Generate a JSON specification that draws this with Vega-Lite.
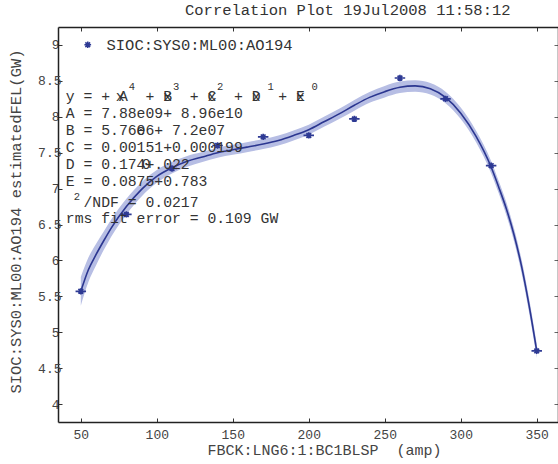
{
  "$schema": "https://vega.github.io/schema/vega-lite/v6.json",
  "width": 500,
  "height": 395,
  "autosize": {"type": "none"},
  "padding": {"left": 58, "top": 27, "right": 0, "bottom": 42},
  "background": "white",
  "config": {"view": {"stroke": null}, "font": "Liberation Mono", "axis": {"grid": false, "labelFont": "Liberation Mono", "titleFont": "Liberation Mono"}},
  "title": {"text": "Correlation Plot 19Jul2008 11:58:12", "anchor": "start", "frame": "group", "dx": 127, "offset": -4, "baseline": "alphabetic", "font": "Liberation Mono", "fontSize": 15.5, "fontWeight": "normal", "color": "#333"},
  "datasets": {
    "fit": [
      {"x": 50, "y": 5.57, "lo": 5.37, "hi": 5.77},
      {"x": 55, "y": 5.87, "lo": 5.70, "hi": 6.04},
      {"x": 60, "y": 6.08, "lo": 5.93, "hi": 6.23},
      {"x": 65, "y": 6.27, "lo": 6.14, "hi": 6.40},
      {"x": 70, "y": 6.45, "lo": 6.33, "hi": 6.57},
      {"x": 80, "y": 6.75, "lo": 6.64, "hi": 6.86},
      {"x": 90, "y": 6.99, "lo": 6.89, "hi": 7.09},
      {"x": 100, "y": 7.17, "lo": 7.08, "hi": 7.26},
      {"x": 110, "y": 7.29, "lo": 7.21, "hi": 7.37},
      {"x": 120, "y": 7.38, "lo": 7.305, "hi": 7.455},
      {"x": 130, "y": 7.44, "lo": 7.37, "hi": 7.51},
      {"x": 140, "y": 7.50, "lo": 7.43, "hi": 7.57},
      {"x": 150, "y": 7.54, "lo": 7.47, "hi": 7.61},
      {"x": 160, "y": 7.58, "lo": 7.51, "hi": 7.65},
      {"x": 170, "y": 7.62, "lo": 7.55, "hi": 7.69},
      {"x": 180, "y": 7.67, "lo": 7.60, "hi": 7.74},
      {"x": 190, "y": 7.74, "lo": 7.67, "hi": 7.81},
      {"x": 200, "y": 7.82, "lo": 7.75, "hi": 7.89},
      {"x": 210, "y": 7.93, "lo": 7.86, "hi": 8.00},
      {"x": 220, "y": 8.04, "lo": 7.97, "hi": 8.11},
      {"x": 230, "y": 8.16, "lo": 8.085, "hi": 8.235},
      {"x": 240, "y": 8.27, "lo": 8.195, "hi": 8.345},
      {"x": 250, "y": 8.35, "lo": 8.27, "hi": 8.43},
      {"x": 260, "y": 8.41, "lo": 8.33, "hi": 8.49},
      {"x": 270, "y": 8.43, "lo": 8.35, "hi": 8.51},
      {"x": 280, "y": 8.39, "lo": 8.31, "hi": 8.47},
      {"x": 290, "y": 8.27, "lo": 8.19, "hi": 8.35},
      {"x": 300, "y": 8.05, "lo": 7.97, "hi": 8.13},
      {"x": 310, "y": 7.73, "lo": 7.65, "hi": 7.81},
      {"x": 320, "y": 7.30, "lo": 7.215, "hi": 7.385},
      {"x": 325, "y": 7.02, "lo": 6.935, "hi": 7.105},
      {"x": 330, "y": 6.72, "lo": 6.63, "hi": 6.81},
      {"x": 335, "y": 6.36, "lo": 6.27, "hi": 6.45},
      {"x": 340, "y": 5.92, "lo": 5.825, "hi": 6.015},
      {"x": 345, "y": 5.37, "lo": 5.27, "hi": 5.47},
      {"x": 350, "y": 4.74, "lo": 4.64, "hi": 4.84}
    ],
    "pts": [
      {"x": 50, "y": 5.57, "series": "SIOC:SYS0:ML00:AO194"},
      {"x": 80, "y": 6.64, "series": "SIOC:SYS0:ML00:AO194"},
      {"x": 110, "y": 7.28, "series": "SIOC:SYS0:ML00:AO194"},
      {"x": 140, "y": 7.60, "series": "SIOC:SYS0:ML00:AO194"},
      {"x": 170, "y": 7.72, "series": "SIOC:SYS0:ML00:AO194"},
      {"x": 200, "y": 7.74, "series": "SIOC:SYS0:ML00:AO194"},
      {"x": 230, "y": 7.97, "series": "SIOC:SYS0:ML00:AO194"},
      {"x": 260, "y": 8.54, "series": "SIOC:SYS0:ML00:AO194"},
      {"x": 290, "y": 8.25, "series": "SIOC:SYS0:ML00:AO194"},
      {"x": 320, "y": 7.32, "series": "SIOC:SYS0:ML00:AO194"},
      {"x": 350, "y": 4.74, "series": "SIOC:SYS0:ML00:AO194"}
    ],
    "one": [{}]
  },
  "resolve": {"axis": {"x": "independent", "y": "independent"}},
  "layer": [
    {
      "data": {"name": "fit"},
      "mark": {"type": "area", "color": "#b7bee4", "interpolate": "monotone"},
      "encoding": {
        "x": {"field": "x", "type": "quantitative", "scale": {"domain": [35, 364], "nice": false, "zero": false},
          "axis": {"orient": "bottom", "values": [50, 100, 150, 200, 250, 300, 350], "format": "d", "title": "FBCK:LNG6:1:BC1BLSP\u00a0\u00a0(amp)",
            "tickSize": -4, "tickColor": "#333", "labelPadding": 10, "labelFontSize": 13, "labelColor": "#444",
            "titleFontSize": 15, "titleColor": "#444", "titleFontWeight": "normal", "titleX": 266, "titleY": 32, "titleBaseline": "alphabetic",
            "domainColor": "#222", "domainWidth": 1.5, "labelOverlap": false, "labelFlush": false, "labelBound": false}},
        "y": {"field": "lo", "type": "quantitative", "scale": {"domain": [3.75, 9.25], "nice": false, "zero": false},
          "axis": {"orient": "left", "values": [4, 4.5, 5, 5.5, 6, 6.5, 7, 7.5, 8, 8.5, 9], "labelExpr": "datum.value % 1 === 0 ? format(datum.value, 'd') : ''",
            "tickSize": -4, "tickColor": "#333", "labelPadding": 3, "labelFontSize": 13, "labelColor": "#444",
            "title": "SIOC:SYS0:ML00:AO194 estimatedFEL(GW)", "titleFontSize": 15.5, "titleColor": "#444", "titleFontWeight": "normal",
            "titleX": -43, "titleY": 194, "titleAngle": 270, "titleBaseline": "middle", "titleAlign": "center",
            "domainColor": "#222", "domainWidth": 1.5, "labelOverlap": false, "labelFlush": false, "labelBound": false}},
        "y2": {"field": "hi"}
      }
    },
    {
      "data": {"name": "fit"},
      "mark": {"type": "line", "color": "#2b3690", "strokeWidth": 1.6, "interpolate": "monotone"},
      "encoding": {
        "x": {"field": "x", "type": "quantitative", "scale": {"domain": [35, 364], "nice": false, "zero": false},
          "axis": {"orient": "top", "values": [50, 100, 150, 200, 250, 300, 350], "labels": false, "title": null, "tickSize": -4, "tickColor": "#333", "domainColor": "#222", "domainWidth": 1.5}},
        "y": {"field": "y", "type": "quantitative", "scale": {"domain": [3.75, 9.25], "nice": false, "zero": false},
          "axis": {"orient": "right", "values": [4, 4.5, 5, 5.5, 6, 6.5, 7, 7.5, 8, 8.5, 9], "labels": false, "title": null, "tickSize": -4, "tickColor": "#666", "domainColor": "#222", "domainWidth": 1.5}}
      }
    },
    {
      "data": {"name": "pts"},
      "mark": {"type": "point", "shape": "M-1,0L1,0M0,-0.6L0,0.6M-0.45,-0.45L0.45,0.45M-0.45,0.45L0.45,-0.45", "size": 110, "filled": false, "strokeWidth": 1.7, "opacity": 1},
      "encoding": {
        "x": {"field": "x", "type": "quantitative", "scale": {"domain": [35, 364], "nice": false, "zero": false}, "axis": null},
        "y": {"field": "y", "type": "quantitative", "scale": {"domain": [3.75, 9.25], "nice": false, "zero": false},
          "axis": {"orient": "left", "values": [4.5, 5.5, 6.5, 7.5, 8.5], "format": ".1f", "ticks": false, "domain": false, "labelPadding": -3, "labelFontSize": 13, "labelColor": "#444", "title": null, "labelOverlap": false, "labelFlush": false, "labelBound": false}},
        "color": {"field": "series", "type": "nominal", "scale": {"range": ["#2e3a94"]},
          "legend": {"orient": "none", "legendX": 22, "legendY": 10, "title": null, "padding": 0,
            "symbolType": "M0,-1L0,1M-1,0L1,0M-0.7,-0.7L0.7,0.7M-0.7,0.7L0.7,-0.7", "symbolSize": 45, "symbolStrokeWidth": 1.5,
            "labelFont": "Liberation Mono", "labelFontSize": 15.5, "labelColor": "#333", "labelOffset": 11, "labelLimit": 400}}
      }
    },
    {
      "data": {"name": "one"},
      "mark": {"type": "text", "align": "left", "baseline": "alphabetic", "font": "Liberation Mono", "fontSize": 14.75, "color": "#333", "lineHeight": 17},
      "encoding": {
        "x": {"datum": 40.13, "type": "quantitative", "scale": {"domain": [35, 364], "nice": false, "zero": false}, "axis": null},
        "y": {"datum": 8.222, "type": "quantitative", "scale": {"domain": [3.75, 9.25], "nice": false, "zero": false}, "axis": null},
        "text": {"value": ["y\u00a0=\u00a0+\u00a0A\u00a0\u00a0+\u00a0B\u00a0\u00a0+\u00a0C\u00a0\u00a0+\u00a0D\u00a0\u00a0+\u00a0E", "A\u00a0=\u00a07.88e09+\u00a08.96e10", "B\u00a0=\u00a05.76e6+\u00a07.2e07", "C\u00a0=\u00a00.00151+0.000199", "D\u00a0=\u00a00.174+.022", "E\u00a0=\u00a00.0875+0.783"]}
      }
    },
    {
      "data": {"name": "one"},
      "mark": {"type": "text", "align": "left", "baseline": "alphabetic", "font": "Liberation Mono", "fontSize": 14.75, "color": "#333", "dx": 97.35},
      "encoding": {
        "x": {"datum": 40.13, "type": "quantitative", "scale": {"domain": [35, 364], "nice": false, "zero": false}, "axis": null},
        "y": {"datum": 8.222, "type": "quantitative", "scale": {"domain": [3.75, 9.25], "nice": false, "zero": false}, "axis": null},
        "text": {"value": "x\u00a0\u00a0\u00a0\u00a0x\u00a0\u00a0\u00a0\u00a0x\u00a0\u00a0\u00a0\u00a0x"}
      }
    },
    {
      "data": {"name": "one"},
      "mark": {"type": "text", "align": "left", "baseline": "alphabetic", "font": "Liberation Mono", "fontSize": 14.75, "color": "#333", "dx": 50},
      "encoding": {
        "x": {"datum": 40.13, "type": "quantitative", "scale": {"domain": [35, 364], "nice": false, "zero": false}, "axis": null},
        "y": {"datum": 8.222, "type": "quantitative", "scale": {"domain": [3.75, 9.25], "nice": false, "zero": false}, "axis": null},
        "text": {"value": "x"}
      }
    },
    {
      "data": {"name": "one"},
      "mark": {"type": "text", "align": "left", "baseline": "alphabetic", "font": "Liberation Mono", "fontSize": 14.75, "color": "#333", "dx": 70.8},
      "encoding": {
        "x": {"datum": 40.13, "type": "quantitative", "scale": {"domain": [35, 364], "nice": false, "zero": false}, "axis": null},
        "y": {"datum": 7.750, "type": "quantitative", "scale": {"domain": [3.75, 9.25], "nice": false, "zero": false}, "axis": null},
        "text": {"value": "0"}
      }
    },
    {
      "data": {"name": "one"},
      "mark": {"type": "text", "align": "left", "baseline": "alphabetic", "font": "Liberation Mono", "fontSize": 14.75, "color": "#333", "dx": 76},
      "encoding": {
        "x": {"datum": 40.13, "type": "quantitative", "scale": {"domain": [35, 364], "nice": false, "zero": false}, "axis": null},
        "y": {"datum": 7.278, "type": "quantitative", "scale": {"domain": [3.75, 9.25], "nice": false, "zero": false}, "axis": null},
        "text": {"value": "0"}
      }
    },
    {
      "data": {"name": "one"},
      "mark": {"type": "text", "align": "left", "baseline": "alphabetic", "font": "Liberation Mono", "fontSize": 10.5, "color": "#333", "dx": 63},
      "encoding": {
        "x": {"datum": 40.13, "type": "quantitative", "scale": {"domain": [35, 364], "nice": false, "zero": false}, "axis": null},
        "y": {"datum": 8.375, "type": "quantitative", "scale": {"domain": [3.75, 9.25], "nice": false, "zero": false}, "axis": null},
        "text": {"value": "4\u00a0\u00a0\u00a0\u00a0\u00a0\u00a03\u00a0\u00a0\u00a0\u00a0\u00a0\u00a02\u00a0\u00a0\u00a0\u00a0\u00a0\u00a0\u00a01\u00a0\u00a0\u00a0\u00a0\u00a0\u00a00"}
      }
    },
    {
      "data": {"name": "one"},
      "mark": {"type": "text", "align": "left", "baseline": "alphabetic", "font": "Liberation Mono", "fontSize": 14.75, "color": "#333", "dx": 17.7},
      "encoding": {
        "x": {"datum": 40.13, "type": "quantitative", "scale": {"domain": [35, 364], "nice": false, "zero": false}, "axis": null},
        "y": {"datum": 6.75, "type": "quantitative", "scale": {"domain": [3.75, 9.25], "nice": false, "zero": false}, "axis": null},
        "text": {"value": "/NDF\u00a0=\u00a00.0217"}
      }
    },
    {
      "data": {"name": "one"},
      "mark": {"type": "text", "align": "left", "baseline": "alphabetic", "font": "Liberation Mono", "fontSize": 10.5, "color": "#333"},
      "encoding": {
        "x": {"datum": 45.4, "type": "quantitative", "scale": {"domain": [35, 364], "nice": false, "zero": false}, "axis": null},
        "y": {"datum": 6.847, "type": "quantitative", "scale": {"domain": [3.75, 9.25], "nice": false, "zero": false}, "axis": null},
        "text": {"value": "2"}
      }
    },
    {
      "data": {"name": "one"},
      "mark": {"type": "text", "align": "left", "baseline": "alphabetic", "font": "Liberation Mono", "fontSize": 14.75, "color": "#333"},
      "encoding": {
        "x": {"datum": 40.13, "type": "quantitative", "scale": {"domain": [35, 364], "nice": false, "zero": false}, "axis": null},
        "y": {"datum": 6.514, "type": "quantitative", "scale": {"domain": [3.75, 9.25], "nice": false, "zero": false}, "axis": null},
        "text": {"value": "rms\u00a0fit\u00a0error\u00a0=\u00a00.109\u00a0GW"}
      }
    }
  ]
}
